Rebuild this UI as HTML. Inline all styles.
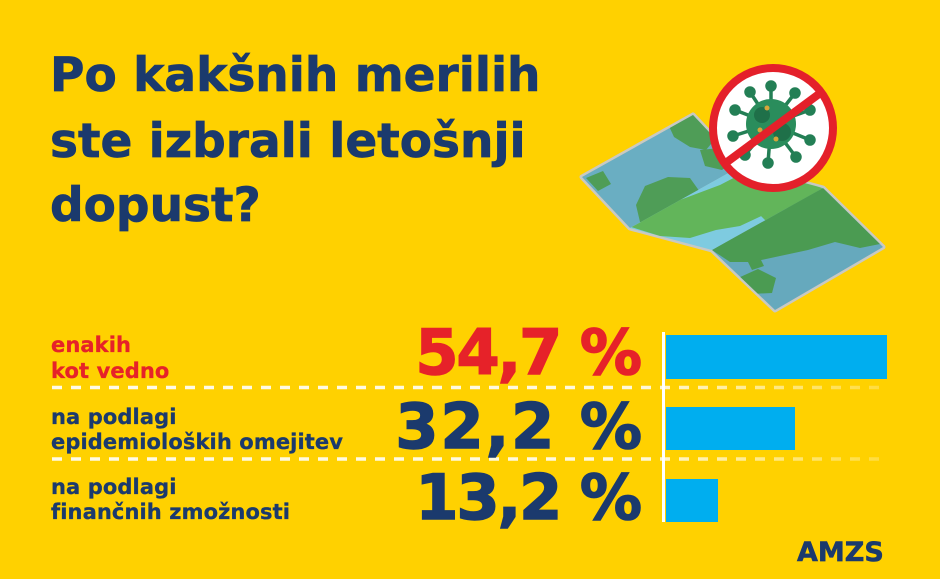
<!DOCTYPE html>
<html><head><meta charset="utf-8">
<style>
html,body{margin:0;padding:0;}
body{width:940px;height:579px;background:#FFD100;position:relative;overflow:hidden;font-family:"DejaVu Sans","Liberation Sans",sans-serif;font-weight:bold;}
.t{position:absolute;white-space:nowrap;color:#1B3A6D;}
.title{font-size:47px;line-height:47px;left:50px;-webkit-text-stroke:0.7px currentColor;}
.lab{font-size:21px;left:51px;-webkit-text-stroke:0.3px currentColor;letter-spacing:0.1px;}
.pct{font-size:62px;line-height:62px;right:300px;letter-spacing:-2px;-webkit-text-stroke:1.5px currentColor;text-align:right;}
.red{color:#E62229;}
svg{position:absolute;left:0;top:0;}
</style></head><body>
<svg width="940" height="579" viewBox="0 0 940 579">
<defs>
<linearGradient id="dg" gradientUnits="userSpaceOnUse" x1="52" y1="0" x2="887" y2="0">
<stop offset="0" stop-color="#fffbe8" stop-opacity="1"/>
<stop offset="0.7" stop-color="#fffbe8" stop-opacity="0.95"/>
<stop offset="1" stop-color="#fffbe8" stop-opacity="0.25"/>
</linearGradient>
<clipPath id="cl"><polygon points="582,177 693,115 741,166 630,228"/></clipPath>
<clipPath id="cm"><polygon points="630,228 741,166 823,188 712,250"/></clipPath>
<clipPath id="cr"><polygon points="712,250 823,188 883,247 775,310"/></clipPath>
</defs>
<!-- map -->
<polygon points="582,177 693,115 741,166 823,188 883,247 775,310 712,250 630,228" fill="#c9c9c2" stroke="#c9c9c2" stroke-width="5" stroke-linejoin="round"/>
<polygon points="582,177 693,115 741,166 630,228" fill="#6aaec2"/>
<polygon points="630,228 741,166 823,188 712,250" fill="#7ecbe0"/>
<polygon points="712,250 823,188 883,247 775,310" fill="#66a9bd"/>
<g clip-path="url(#cl)" fill="#4f9d57">
<polygon points="668,124 693,114 716,138 706,150 690,147 674,137"/>
<polygon points="586,178 603,171 611,184 598,191"/>
<polygon points="645,186 668,177 690,178 700,192 690,204 670,210 655,222 640,222 636,205"/>
<polygon points="700,150 720,148 735,160 722,170 705,166"/>
</g>
<g clip-path="url(#cm)" fill="#62b55a">
<polygon points="628,226 680,200 720,185 745,172 790,176 822,188 800,205 770,212 740,226 716,230 690,238 660,236"/>
<polygon points="760,215 790,205 822,188 823,200 800,215 770,225"/>
</g>
<g clip-path="url(#cr)" fill="#4b9b52">
<polygon points="712,250 760,222 823,188 852,214 880,244 860,248 835,242 808,250 780,256 752,262 730,262"/>
<polygon points="738,278 758,269 776,278 772,293 750,294"/>
<polygon points="748,262 760,258 764,266 752,270"/>
</g>
<!-- no-virus sign -->
<circle cx="773" cy="128" r="60" fill="#ffffff" stroke="#E4202A" stroke-width="8"/>
<g stroke="#237f55" stroke-width="3.5" fill="#237f55">
<line x1="771" y1="124" x2="771" y2="86"/>
<line x1="771" y1="124" x2="795" y2="93"/>
<line x1="771" y1="124" x2="810" y2="110"/>
<line x1="771" y1="124" x2="810" y2="140"/>
<line x1="771" y1="124" x2="796" y2="157"/>
<line x1="771" y1="124" x2="768" y2="163"/>
<line x1="771" y1="124" x2="745" y2="155"/>
<line x1="771" y1="124" x2="733" y2="136"/>
<line x1="771" y1="124" x2="735" y2="110"/>
<line x1="771" y1="124" x2="750" y2="92"/>
<circle cx="771" cy="86" r="4"/><circle cx="795" cy="93" r="4"/><circle cx="810" cy="110" r="4"/>
<circle cx="810" cy="140" r="4"/><circle cx="796" cy="157" r="4"/><circle cx="768" cy="163" r="4"/>
<circle cx="745" cy="155" r="4"/><circle cx="733" cy="136" r="4"/><circle cx="735" cy="110" r="4"/>
<circle cx="750" cy="92" r="4"/>
</g>
<circle cx="771" cy="124" r="25" fill="#2a8d5c"/>
<circle cx="762" cy="115" r="8" fill="#1f7049"/>
<circle cx="782" cy="132" r="9" fill="#1f7049"/>
<g fill="#d6a63a">
<circle cx="767" cy="108" r="2.5"/><circle cx="760" cy="130" r="2.5"/><circle cx="785" cy="118" r="2.5"/><circle cx="776" cy="139" r="2.5"/>
</g>
<line x1="821" y1="92.5" x2="725" y2="163.5" stroke="#E4202A" stroke-width="8"/>
<!-- dashed separators -->
<line x1="52" y1="387.5" x2="888" y2="387.5" stroke="url(#dg)" stroke-width="3.6" stroke-dasharray="10 9"/>
<line x1="52" y1="459" x2="888" y2="459" stroke="url(#dg)" stroke-width="3.6" stroke-dasharray="10 9"/>
<!-- axis -->
<rect x="662" y="332" width="3" height="190" fill="#ffffff"/>
<!-- bars -->
<rect x="666" y="335" width="221" height="44" fill="#00AEEF"/>
<rect x="666" y="407" width="129" height="43" fill="#00AEEF"/>
<rect x="666" y="479" width="52" height="43" fill="#00AEEF"/>
</svg>

<div class="t title" style="top:52px">Po kakšnih merilih</div>
<div class="t title" style="top:118px">ste izbrali letošnji</div>
<div class="t title" style="top:182px">dopust?</div>

<div class="t lab red" style="top:332px;line-height:26px">enakih<br>kot vedno</div>
<div class="t lab" style="top:405px;line-height:25px">na podlagi<br>epidemioloških omejitev</div>
<div class="t lab" style="top:475px;line-height:25px">na podlagi<br>finančnih zmožnosti</div>

<div class="t pct red" style="top:322px">54,7 %</div>
<div class="t pct" style="top:396px;letter-spacing:2px;right:296px">32,2 %</div>
<div class="t pct" style="top:467px">13,2 %</div>

<div class="t" style="left:797px;top:539px;font-size:27px;line-height:27px;-webkit-text-stroke:0.6px currentColor;">AMZS</div>
</body></html>
